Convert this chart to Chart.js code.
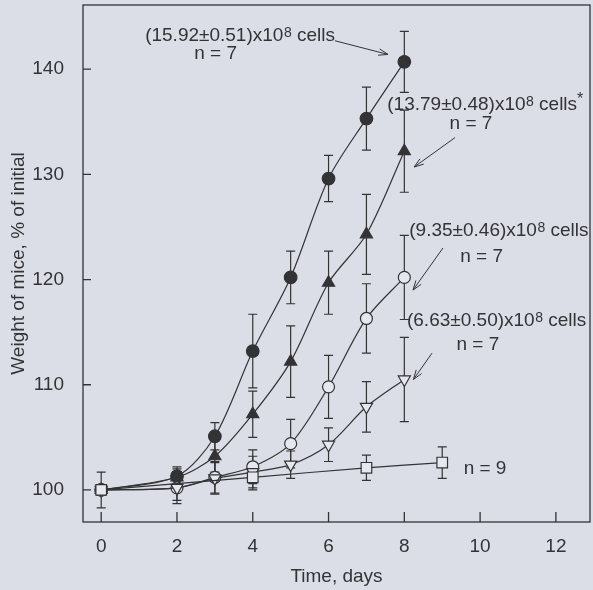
<!DOCTYPE html>
<html>
<head>
<meta charset="utf-8">
<script src="https://cdn.jsdelivr.net/npm/chart.js@4.4.0/dist/chart.umd.min.js"></script>
<style>
html, body { margin: 0; padding: 0; background: #dcdee7; }
#wrap { width: 593px; height: 590px; position: relative; }
</style>
</head>
<body>
<div id="wrap"><canvas id="miceChart"></canvas></div>
<script>
// days of measurement for the treated groups and the control group
const days = [0, 2, 3, 4, 5, 6, 7, 8];
const controlDays = [0, 4, 7, 9];

// weight, % of initial
const dose1592 = [100, 101.3, 105.1, 113.2, 120.2, 129.6, 135.3, 140.7];
const err1592 = [0.5, 0.9, 1.3, 3.5, 2.5, 2.2, 3.0, 2.9];
const dose1379 = [100, 101.2, 103.2, 107.2, 112.2, 119.7, 124.3, 132.2];
const err1379 = [0.5, 0.8, 1.5, 2.2, 3.4, 3.0, 3.8, 3.9];
const dose935 = [100, 100.2, 101.2, 102.2, 104.4, 109.8, 116.3, 120.2];
const err935 = [0.5, 1.5, 1.5, 1.6, 2.3, 3.0, 3.3, 4.0];
const dose663 = [100, 100.2, 101.1, 101.7, 102.4, 104.3, 107.9, 110.5];
const err663 = [0.5, 1.2, 1.5, 1.5, 1.3, 1.6, 2.4, 4.0];
const control = [100, 101.2, 102.1, 102.6];
const errControl = [1.7, 1.2, 1.2, 1.5];

const xTicks = [0, 2, 4, 6, 8, 10, 12];
const yTicks = [100, 110, 120, 130, 140];

// annotation texts and where their baselines sit (in axis units)
const doseText = ['(15.92\u00b10.51)x10', '(13.79\u00b10.48)x10', '(9.35\u00b10.46)x10', '(6.63\u00b10.50)x10'];
const doseStar = ['', '*', '', ''];
const doseTextAt = [[1.16, 142.7], [7.55, 136.1], [8.13, 124.1], [8.07, 115.55]];
const nText = ['n = 7', 'n = 7', 'n = 7', 'n = 7', 'n = 9'];
const nTextAt = [[3.02, 140.95], [9.76, 134.29], [10.04, 121.7], [9.94, 113.33], [10.13, 101.55]];
const arrowFrom = [[6.17, 142.7], [9.34, 133.5], [9.02, 123.0], [8.73, 113.0]];
const arrowTo = [[7.57, 141.4], [8.26, 130.7], [8.23, 119.0], [8.24, 110.5]];

const INK = '#333336';
const PAPER = '#e6e8ef';
const FONT = 'Liberation Sans, Arial, sans-serif';

const toPoints = (xs, ys) => xs.map((x, i) => ({ x: x, y: ys[i] }));

function series(xs, ys, errs, style, fill, radius, rotation) {
    return {
        data: toPoints(xs, ys),
        errors: errs,
        borderColor: INK,
        borderWidth: 1.2,
        tension: 0.3,
        pointStyle: style,
        pointRadius: radius,
        pointRotation: rotation || 0,
        pointBackgroundColor: fill,
        pointBorderColor: INK,
        pointBorderWidth: 1.2
    };
}

const errorBars = {
    id: 'errorBars',
    beforeDatasetsDraw(chart) {
        const { ctx, scales: { x, y } } = chart;
        ctx.save();
        ctx.strokeStyle = INK;
        ctx.lineWidth = 1.2;
        chart.data.datasets.forEach(ds => {
            ds.data.forEach((p, i) => {
                const e = ds.errors[i];
                const px = x.getPixelForValue(p.x);
                const top = y.getPixelForValue(p.y + e);
                const bot = y.getPixelForValue(p.y - e);
                ctx.beginPath();
                ctx.moveTo(px, top); ctx.lineTo(px, bot);
                ctx.moveTo(px - 4.5, top); ctx.lineTo(px + 4.5, top);
                ctx.moveTo(px - 4.5, bot); ctx.lineTo(px + 4.5, bot);
                ctx.stroke();
            });
        });
        ctx.restore();
    }
};

const frameAndNotes = {
    id: 'frameAndNotes',
    afterDraw(chart) {
        const { ctx, chartArea: a, scales: { x, y } } = chart;
        ctx.save();
        ctx.strokeStyle = INK;
        ctx.lineWidth = 1.3;
        ctx.strokeRect(a.left, a.top, a.right - a.left, a.bottom - a.top);

        // tick marks point inward
        ctx.beginPath();
        xTicks.forEach(v => {
            const px = x.getPixelForValue(v);
            ctx.moveTo(px, a.bottom); ctx.lineTo(px, a.bottom - 10);
        });
        yTicks.forEach(v => {
            const py = y.getPixelForValue(v);
            ctx.moveTo(a.left, py); ctx.lineTo(a.left + 8, py);
        });
        ctx.stroke();

        // labels
        ctx.fillStyle = INK;
        ctx.textBaseline = 'alphabetic';
        ctx.textAlign = 'left';
        doseText.forEach((t, i) => {
            let px = x.getPixelForValue(doseTextAt[i][0]);
            const py = y.getPixelForValue(doseTextAt[i][1]);
            ctx.font = '19px ' + FONT;
            ctx.fillText(t, px, py);
            px += ctx.measureText(t).width;
            ctx.font = '14px ' + FONT;
            ctx.fillText('8', px + 0.5, py - 4);
            px += ctx.measureText('8').width + 0.5;
            ctx.font = '19px ' + FONT;
            ctx.fillText(' cells', px, py);
            px += ctx.measureText(' cells').width;
            if (doseStar[i]) {
                ctx.font = '16px ' + FONT;
                ctx.fillText(doseStar[i], px, py - 6);
            }
        });
        ctx.font = '19px ' + FONT;
        ctx.textAlign = 'center';
        nText.forEach((t, i) => {
            ctx.fillText(t, x.getPixelForValue(nTextAt[i][0]), y.getPixelForValue(nTextAt[i][1]));
        });

        // arrows
        ctx.lineWidth = 1;
        arrowFrom.forEach((f, i) => {
            const x0 = x.getPixelForValue(f[0]), y0 = y.getPixelForValue(f[1]);
            const x1 = x.getPixelForValue(arrowTo[i][0]), y1 = y.getPixelForValue(arrowTo[i][1]);
            const ang = Math.atan2(y1 - y0, x1 - x0);
            ctx.beginPath();
            ctx.moveTo(x0, y0); ctx.lineTo(x1, y1);
            ctx.moveTo(x1 - 10 * Math.cos(ang - 0.33), y1 - 10 * Math.sin(ang - 0.33));
            ctx.lineTo(x1, y1);
            ctx.lineTo(x1 - 10 * Math.cos(ang + 0.33), y1 - 10 * Math.sin(ang + 0.33));
            ctx.stroke();
        });
        ctx.restore();
    }
};

new Chart(document.getElementById('miceChart').getContext('2d'), {
    type: 'line',
    data: {
        datasets: [
            series(controlDays, control, errControl, 'rect', PAPER, 7.5),
            series(days, dose663, err663, 'triangle', PAPER, 7, 180),
            series(days, dose935, err935, 'circle', PAPER, 6),
            series(days, dose1379, err1379, 'triangle', INK, 7),
            series(days, dose1592, err1592, 'circle', INK, 6.3)
        ]
    },
    options: {
        responsive: true,
        maintainAspectRatio: false,
        animation: false,
        layout: { autoPadding: false, padding: { top: 5, right: 3, left: 0, bottom: 0 } },
        plugins: { legend: { display: false }, tooltip: { enabled: false } },
        scales: {
            x: {
                type: 'linear',
                min: -0.48,
                max: 12.9,
                afterBuildTicks: s => { s.ticks = xTicks.map(v => ({ value: v })); },
                afterFit: s => { s.height = 68; s.paddingLeft = 0; s.paddingRight = 0; },
                grid: { display: false },
                border: { display: false },
                ticks: { color: INK, font: { family: FONT, size: 19 }, padding: 5 },
                title: { display: true, text: 'Time, days', color: INK, font: { family: FONT, size: 19 }, padding: { top: 0, bottom: 2 } }
            },
            y: {
                min: 96.95,
                max: 146.1,
                afterBuildTicks: s => { s.ticks = yTicks.map(v => ({ value: v })); },
                afterFit: s => { s.width = 83; s.paddingTop = 0; s.paddingBottom = 0; },
                grid: { display: false },
                border: { display: false },
                ticks: { color: INK, font: { family: FONT, size: 19 }, padding: 11 },
                title: { display: true, text: 'Weight of mice, % of initial', color: INK, font: { family: FONT, size: 19 }, padding: { top: 7, bottom: 0 } }
            }
        }
    },
    plugins: [errorBars, frameAndNotes]
});
</script>
</body>
</html>
